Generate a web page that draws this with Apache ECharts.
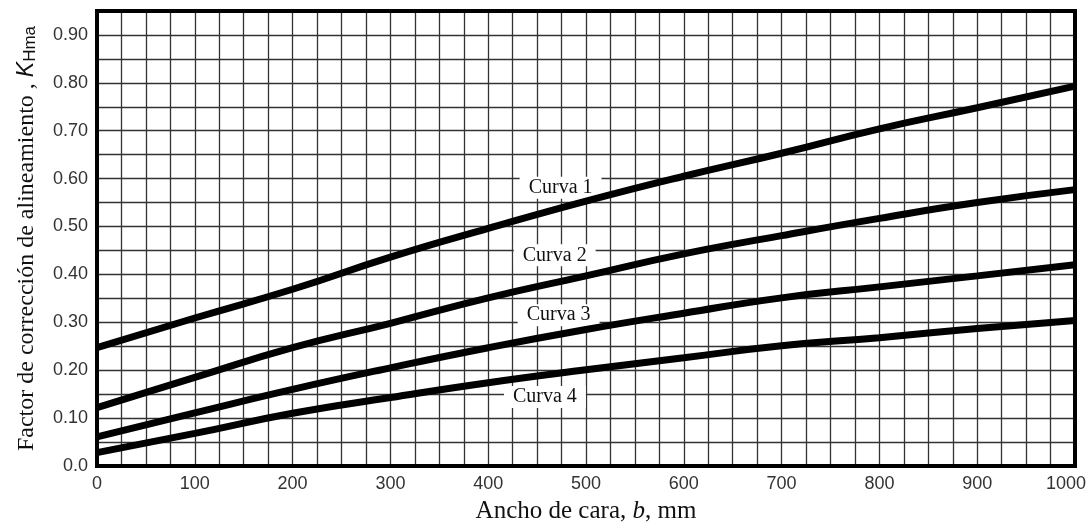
<!DOCTYPE html>
<html>
<head>
<meta charset="utf-8">
<script src="https://cdn.jsdelivr.net/npm/echarts@6/dist/echarts.min.js"></script>
<style>html,body{margin:0;padding:0;background:#fff;}#c{width:1091px;height:531px;}</style>
</head>
<body>
<div id="c"></div>
<script>
const widths = [0, 100, 200, 300, 400, 500, 600, 700, 800, 900, 1000];
const curva1 = [0.247, 0.309, 0.369, 0.436, 0.496, 0.553, 0.605, 0.653, 0.704, 0.748, 0.793];
const curva2 = [0.122, 0.185, 0.247, 0.298, 0.351, 0.397, 0.443, 0.481, 0.517, 0.550, 0.577];
const curva3 = [0.061, 0.111, 0.160, 0.205, 0.247, 0.285, 0.319, 0.351, 0.374, 0.397, 0.420];
const curva4 = [0.028, 0.068, 0.110, 0.143, 0.174, 0.201, 0.226, 0.251, 0.268, 0.287, 0.304];
const curveNames = ['Curva 1', 'Curva 2', 'Curva 3', 'Curva 4'];
const labelSpots = [[474, 0.581], [468, 0.440], [472, 0.315], [458, 0.144]];

const chart = echarts.init(document.getElementById('c'));
const serif = '"Liberation Serif", "DejaVu Serif", serif';
const sans = '"Liberation Sans", Arial, sans-serif';

function makeSeries(name, vals, spot) {
  return {
    name: name,
    type: 'line',
    smooth: true,
    symbol: 'none',
    data: widths.map((w, i) => [w, vals[i]]),
    lineStyle: { color: '#000', width: 7 },
    z: 5,
    markPoint: {
      symbol: 'rect',
      symbolSize: 0,
      silent: true,
      data: [{ coord: spot, value: name }],
      label: {
        show: true,
        formatter: name,
        fontFamily: serif,
        fontSize: 20,
        color: '#111',
        backgroundColor: '#fff',
        padding: [1, 9, 1, 9]
      }
    }
  };
}

chart.setOption({
  animation: false,
  backgroundColor: '#fff',
  grid: { left: 97, right: 16, top: 11, bottom: 65, show: true, borderColor: '#000', borderWidth: 4, z: 10,
          containLabel: false, outerBoundsMode: 'none' },
  xAxis: {
    type: 'value',
    min: 0, max: 1000, interval: 25,
    name: '{a|Ancho de cara, }{i|b}{a|, mm}',
    nameLocation: 'middle',
    nameGap: 33,
    nameTextStyle: {
      rich: {
        a: { fontFamily: serif, fontSize: 25, color: '#111' },
        i: { fontFamily: serif, fontSize: 25, fontStyle: 'italic', color: '#111' }
      }
    },
    axisLine: { show: false },
    axisTick: { show: false },
    axisLabel: {
      margin: 9,
      fontFamily: sans, fontSize: 18, color: '#333',
      formatter: v => {
        const r = Math.round(v);
        if (r % 100 !== 0) return '';
        if (r === 1000) return '{m|' + r + '}';
        return String(r);
      },
      rich: {
        m: { fontFamily: sans, fontSize: 18, color: '#333', padding: [0, 18, 0, 0] }
      }
    },
    splitLine: { show: true, lineStyle: { color: '#333', width: 1.3 } }
  },
  yAxis: {
    type: 'value',
    min: 0, max: 0.95, interval: 0.05,
    name: '{a|Factor de corrección de alineamiento , }{k|K}{s|Hma}',
    nameLocation: 'middle',
    nameGap: 58,
    nameRotate: 90,
    nameTextStyle: {
      rich: {
        a: { fontFamily: serif, fontSize: 24, color: '#111' },
        k: { fontFamily: sans, fontSize: 23, fontStyle: 'italic', color: '#111' },
        s: { fontFamily: sans, fontSize: 17, color: '#111', padding: [8, 0, 0, 0] }
      }
    },
    axisLine: { show: false },
    axisTick: { show: false },
    axisLabel: {
      margin: 9,
      fontFamily: sans, fontSize: 18, color: '#333',
      formatter: v => {
        const h = Math.round(v * 100);
        if (h % 10 !== 0) return '';
        if (h === 0) return '0.0';
        return (h / 100).toFixed(2);
      }
    },
    splitLine: { show: true, lineStyle: { color: '#333', width: 1.3 } }
  },
  series: [
    makeSeries(curveNames[0], curva1, labelSpots[0]),
    makeSeries(curveNames[1], curva2, labelSpots[1]),
    makeSeries(curveNames[2], curva3, labelSpots[2]),
    makeSeries(curveNames[3], curva4, labelSpots[3])
  ]
});
</script>
</body>
</html>
